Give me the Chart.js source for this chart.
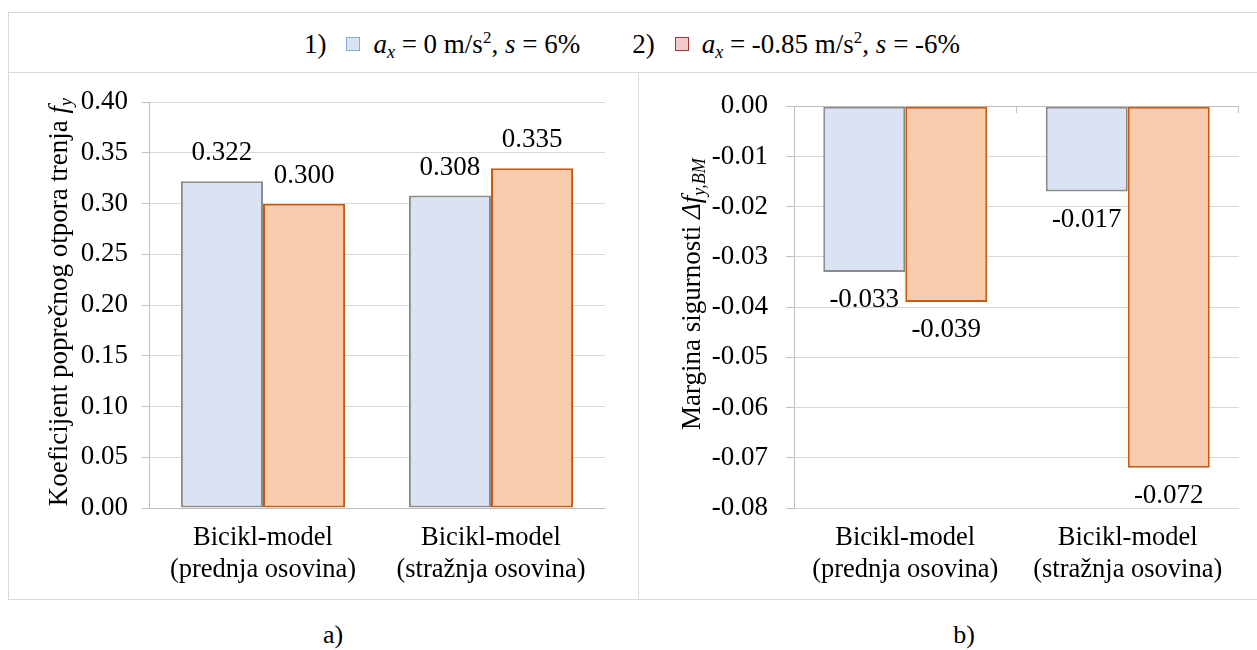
<!DOCTYPE html>
<html>
<head>
<meta charset="utf-8">
<script src="https://cdn.jsdelivr.net/npm/chart.js@4/dist/chart.umd.min.js"></script>
<style>
  body { margin: 0; background: #fff; font-family: 'Liberation Serif', serif; color: #000; }
  #page { position: relative; width: 1257px; height: 650px; overflow: hidden; }
  .line { position: absolute; background: #d9d9d9; }
  canvas { position: absolute; }
  #legend { position: absolute; left: 0; top: 28px; width: 1264px; display: flex; justify-content: center; align-items: center; font-size: 27px; line-height: 32px; white-space: nowrap; }
  #legend .num { margin-right: 20px; }
  #legend .sw { display: inline-block; width: 12px; height: 12px; margin-right: 13px; }
  #legend .item { margin-right: 52px; display: flex; align-items: center; }
  #legend .item:last-child { margin-right: 0; }
  #legend sub { font-size: 18px; vertical-align: -5px; line-height: 0; }
  #legend sup { font-size: 17px; vertical-align: 10px; line-height: 0; }
  .cap { position: absolute; top: 619px; font-size: 26px; line-height: 32px; transform: translateX(-50%); }
</style>
</head>
<body>
<div id="page">
  <div class="line" style="left:8px;top:12px;width:1262px;height:1px"></div>
  <div class="line" style="left:8px;top:12px;width:1px;height:588px"></div>
  <div class="line" style="left:8px;top:72px;width:1262px;height:1px"></div>
  <div class="line" style="left:8px;top:599px;width:1262px;height:1px"></div>
  <div class="line" style="left:638px;top:72px;width:1px;height:528px"></div>

  <div id="legend">
    <div class="item"><span class="num">1)</span><span class="sw" style="background:#dae3f3;border:1px solid #8faadc"></span><span><i>a<sub>x</sub></i> = 0 m/s<sup>2</sup>, <i>s</i> = 6%</span></div>
    <div class="item"><span class="num">2)</span><span class="sw" style="background:#f2c9c8;border:1px solid #a33a36"></span><span><i>a<sub>x</sub></i> = -0.85 m/s<sup>2</sup>, <i>s</i> = -6%</span></div>
  </div>

  <canvas id="chartA" width="630" height="528" style="left:8px;top:72px"></canvas>
  <canvas id="chartB" width="619" height="528" style="left:638px;top:72px"></canvas>

  <div class="cap" style="left:333px">a)</div>
  <div class="cap" style="left:964px">b)</div>
</div>

<script>
// data
const categories = [['Bicikl-model', '(prednja osovina)'], ['Bicikl-model', '(stražnja osovina)']];
const seriesNames = ['1) a_x = 0 m/s2, s = 6%', '2) a_x = -0.85 m/s2, s = -6%'];
const frictionCase1 = [0.322, 0.308];
const frictionCase2 = [0.300, 0.335];
const marginCase1 = [-0.033, -0.017];
const marginCase2 = [-0.039, -0.072];
const frictionTicks = [0, 0.05, 0.10, 0.15, 0.20, 0.25, 0.30, 0.35, 0.40];
const marginTicks = [-0.08, -0.07, -0.06, -0.05, -0.04, -0.03, -0.02, -0.01, 0];

const FONT = "'Liberation Serif', serif";
Chart.defaults.font.family = FONT;
Chart.defaults.font.size = 27;
Chart.defaults.color = '#000';

const blueFill = '#dae3f3', blueLine = '#8c8c8c';
const orangeFill = '#f8cbad', orangeLine = '#c55a11';

// numbers above / below each bar
const valueLabels = {
    id: 'valueLabels',
    afterDatasetsDraw(chart) {
        const ctx = chart.ctx;
        ctx.save();
        ctx.font = '27px ' + FONT;
        ctx.fillStyle = '#000';
        ctx.textAlign = 'center';
        ctx.textBaseline = 'middle';
        chart.data.datasets.forEach((ds, i) => {
            chart.getDatasetMeta(i).data.forEach((bar, j) => {
                const v = ds.data[j];
                const y = v >= 0 ? bar.y - 28 : bar.y + 28;
                ctx.fillText(v.toFixed(3), bar.x, y);
            });
        });
        ctx.restore();
    }
};

// rotated y-axis title with italic / subscript parts
const axisTitle = {
    id: 'axisTitle',
    afterDraw(chart, args, opts) {
        const ctx = chart.ctx, area = chart.chartArea;
        const fontOf = p => (p.italic ? 'italic ' : '') + (p.sub ? 18 : 27) + 'px ' + FONT;
        ctx.save();
        ctx.fillStyle = '#000';
        ctx.textAlign = 'left';
        ctx.textBaseline = 'middle';
        let total = 0;
        opts.parts.forEach(p => { ctx.font = fontOf(p); total += ctx.measureText(p.text).width; });
        ctx.translate(opts.x, (area.top + area.bottom) / 2 + (opts.shift || 0));
        ctx.rotate(-Math.PI / 2);
        let x = -total / 2;
        opts.parts.forEach(p => {
            ctx.font = fontOf(p);
            ctx.fillText(p.text, x, p.sub ? 7 : 0);
            x += ctx.measureText(p.text).width;
        });
        ctx.restore();
    }
};

// small category tick marks hanging under the zero line (chart b)
const zeroLineTicks = {
    id: 'zeroLineTicks',
    afterDraw(chart) {
        const ctx = chart.ctx, xs = chart.scales.x;
        const y0 = Math.round(chart.scales.y.getPixelForValue(0));
        const n = chart.data.labels.length;
        const step = (xs.right - xs.left) / n;
        ctx.save();
        ctx.strokeStyle = '#bfbfbf';
        ctx.lineWidth = 1;
        ctx.beginPath();
        for (let i = 1; i <= n; i++) {
            const x = Math.round(xs.left + i * step) - 0.5;
            ctx.moveTo(x, y0);
            ctx.lineTo(x, y0 + 7);
        }
        ctx.stroke();
        ctx.restore();
    }
};

function makeDatasets(a, b) {
    return [
        { label: seriesNames[0], data: a, backgroundColor: blueFill, borderColor: blueLine, borderWidth: 2, borderSkipped: false },
        { label: seriesNames[1], data: b, backgroundColor: orangeFill, borderColor: orangeLine, borderWidth: 2, borderSkipped: false }
    ];
}

function makeOptions(cfg) {
    return {
        responsive: false,
        animation: false,
        layout: { padding: { top: 30, right: cfg.padRight, bottom: 0, left: 0 } },
        datasets: { bar: { categoryPercentage: cfg.catPct, barPercentage: 1 } },
        plugins: {
            legend: { display: false },
            tooltip: { enabled: false },
            axisTitle: { x: cfg.titleX, shift: cfg.titleShift, parts: cfg.title }
        },
        scales: {
            x: {
                grid: { display: false, drawTicks: false },
                border: { display: cfg.xBorder, color: '#bfbfbf', width: 1 },
                ticks: { padding: 14, font: { size: 26.5, lineHeight: 1.2 }, maxRotation: 0 },
                afterFit: s => { s.height = 92; }
            },
            y: {
                min: cfg.ticks[0],
                max: cfg.ticks[cfg.ticks.length - 1],
                afterBuildTicks: s => { s.ticks = cfg.ticks.map(v => ({ value: v })); },
                grid: {
                    color: c => (c.tick && Math.abs(c.tick.value) < 1e-9 ? '#bfbfbf' : '#d9d9d9'),
                    tickColor: '#bfbfbf',
                    tickLength: cfg.tickLen,
                    lineWidth: 1
                },
                border: { color: '#bfbfbf', width: 1 },
                ticks: { padding: cfg.tickPad, callback: v => Number(v).toFixed(2) },
                afterFit: s => { s.width = cfg.axisWidth; }
            }
        }
    };
}

new Chart(document.getElementById('chartA'), {
    type: 'bar',
    data: { labels: categories, datasets: makeDatasets(frictionCase1, frictionCase2) },
    options: makeOptions({
        padRight: 33, catPct: 0.72, axisWidth: 141, tickLen: 7, tickPad: 14, xBorder: true,
        ticks: frictionTicks, titleX: 52, titleShift: -3,
        title: [
            { text: 'Koeficijent poprečnog otpora trenja ' },
            { text: 'f', italic: true },
            { text: 'y', italic: true, sub: true }
        ]
    }),
    plugins: [valueLabels, axisTitle]
});

new Chart(document.getElementById('chartB'), {
    type: 'bar',
    data: { labels: categories, datasets: makeDatasets(marginCase1, marginCase2) },
    options: makeOptions({
        padRight: 18, catPct: 0.737, axisWidth: 156, tickLen: 8, tickPad: 18, xBorder: false,
        ticks: marginTicks, titleX: 55, titleShift: -13,
        title: [
            { text: 'Margina sigurnosti ' },
            { text: 'Δf', italic: true },
            { text: 'y,BM', italic: true, sub: true }
        ]
    }),
    plugins: [valueLabels, axisTitle, zeroLineTicks]
});
</script>
</body>
</html>
